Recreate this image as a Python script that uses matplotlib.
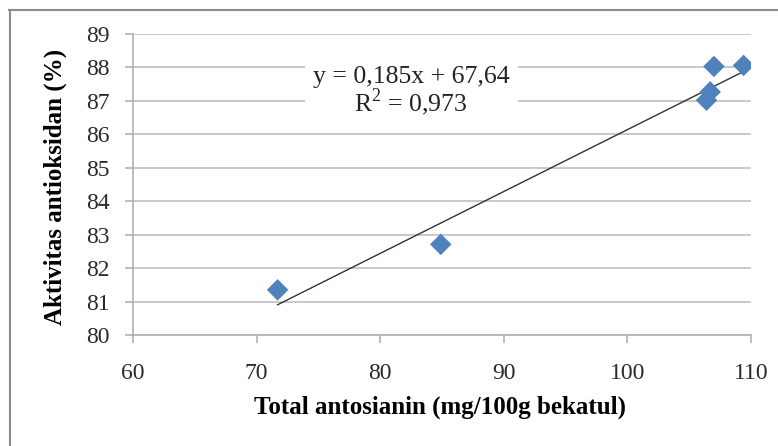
import matplotlib
matplotlib.use("Agg")
import matplotlib.pyplot as plt
from matplotlib.lines import Line2D
import numpy as np

x_vals = [71.7, 84.9, 106.4, 106.7, 107.0, 109.4]
y_vals = [81.35, 82.71, 87.02, 87.27, 88.03, 88.06]
slope = 0.185
intercept = 67.64
eq_text = "y = 0,185x + 67,64\nR$^2$ = 0,973"
x_ticks = [60, 70, 80, 90, 100, 110]
y_ticks = [80, 81, 82, 83, 84, 85, 86, 87, 88, 89]
x_label = "Total antosianin (mg/100g bekatul)"
y_label = "Aktivitas antioksidan (%)"

plt.rcParams['font.family'] = ['Liberation Serif', 'DejaVu Serif']
plt.rcParams['mathtext.fontset'] = 'custom'
plt.rcParams['mathtext.rm'] = 'Liberation Serif'

fig = plt.figure(figsize=(7.78, 4.46), dpi=100)
W, H = 778, 446
ax = fig.add_axes([133 / W, 1 - 335 / H, (751 - 133) / W, (335 - 34) / H])

# border lines of chart area
fig.add_artist(Line2D([9 / W, 1.0], [1 - 10 / H, 1 - 10 / H], transform=fig.transFigure, color='#8c8c8c', lw=1.5))
fig.add_artist(Line2D([10 / W, 10 / W], [0, 1 - 10 / H], transform=fig.transFigure, color='#8c8c8c', lw=1.5))

ax.set_xlim(60, 110)
ax.set_ylim(80, 89)
ax.set_xticks(x_ticks)
ax.set_yticks(y_ticks)
ax.grid(axis='y', color='#c0c0c0', lw=1.2)
ax.set_axisbelow(True)
for s in ['top', 'right']:
    ax.spines[s].set_visible(False)
for s in ['left', 'bottom']:
    ax.spines[s].set_color('#b0b0b0')
    ax.spines[s].set_linewidth(1.2)
ax.tick_params(axis='both', colors='#b0b0b0', labelcolor='#2a2a2a', labelsize=17, length=6, width=1.2)
ax.tick_params(axis='x', pad=14)
ax.tick_params(axis='y', pad=11)

xs = np.array([min(x_vals), max(x_vals)])
ax.plot(xs, slope * xs + intercept, color='#333333', lw=1.0, zorder=2)
ax.scatter(x_vals, y_vals, marker='D', s=120, color='#4F81BD', zorder=3, edgecolors='none')

ax.text(82.5, 87.27, eq_text, fontsize=18.5, ha='center', va='center', ma='center', color='#222222',
        linespacing=0.95, bbox=dict(facecolor='white', edgecolor='none', pad=6), zorder=4)

fig.text(440 / W, 1 - 407 / H, x_label, fontsize=18, fontweight='bold', ha='center', va='center')
fig.text(55 / W, 1 - 187 / H, y_label, fontsize=18, fontweight='bold', ha='center', va='center', rotation=90)

fig.savefig("out.png", dpi=100)
